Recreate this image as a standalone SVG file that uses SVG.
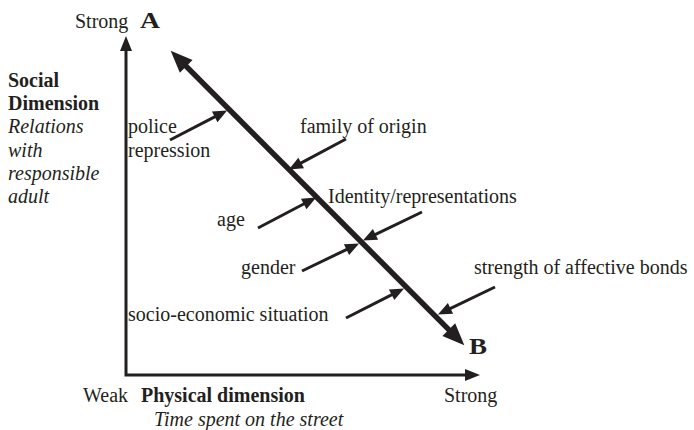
<svg xmlns="http://www.w3.org/2000/svg" width="694" height="430" viewBox="0 0 694 430">
<style>
text{font-family:"Liberation Serif","Times New Roman",serif;font-size:20px;fill:#231f20}
.b{font-weight:bold}
.i{font-style:italic}
.big{font-weight:bold;font-size:24px}
.ax{fill:none;stroke:#231f20;stroke-width:3}
.main{fill:none;stroke:#231f20;stroke-width:5.5}
.sm{fill:none;stroke:#231f20;stroke-width:3}
</style>
<defs>
<marker id="mBig" markerUnits="userSpaceOnUse" markerWidth="24" markerHeight="20" refX="1" refY="9" orient="auto-start-reverse" overflow="visible"><path d="M0,0 L22,9 L0,18 z" fill="#231f20"/></marker>
<marker id="mAx" markerUnits="userSpaceOnUse" markerWidth="16" markerHeight="14" refX="1" refY="6" orient="auto-start-reverse" overflow="visible"><path d="M0,0 L15,6 L0,12 z" fill="#231f20"/></marker>
<marker id="mSm" markerUnits="userSpaceOnUse" markerWidth="16" markerHeight="14" refX="1" refY="6" orient="auto" overflow="visible"><path d="M0,0 L14,6 L0,12 z" fill="#231f20"/></marker>
</defs>
<g id="connectors">
<path class="ax" d="M126,50 L126,375 L466,375" marker-start="url(#mAx)" marker-end="url(#mAx)"/>
<path class="main" d="M185.5,65.6 L449.5,330.4" marker-start="url(#mBig)" marker-end="url(#mBig)"/>
<path class="sm" d="M170,140 L215.6,116.4" marker-end="url(#mSm)"/>
<path class="sm" d="M346,139 L300.3,163.4" marker-end="url(#mSm)"/>
<path class="sm" d="M258,228 L304.6,203.5" marker-end="url(#mSm)"/>
<path class="sm" d="M422,212 L374.6,234.9" marker-end="url(#mSm)"/>
<path class="sm" d="M302,271 L347.4,249.1" marker-end="url(#mSm)"/>
<path class="sm" d="M346,318 L392.5,294.3" marker-end="url(#mSm)"/>
<path class="sm" d="M495,287 L449.6,308.9" marker-end="url(#mSm)"/>
</g>
<g id="axis-y-label">
<text x="75" y="28">Strong</text>
<text class="b" x="8" y="87">Social</text>
<text class="b" x="8" y="110">Dimension</text>
<text class="i" x="8" y="133">Relations</text>
<text class="i" x="8" y="157">with</text>
<text class="i" x="8" y="180">responsible</text>
<text class="i" x="8" y="203">adult</text>
</g>
<g id="axis-x-label">
<text x="83" y="402">Weak</text>
<text class="b" x="141" y="402">Physical dimension</text>
<text class="i" x="154" y="426">Time spent on the street</text>
<text x="444" y="402">Strong</text>
</g>
<g id="node-A"><text class="big" x="140" y="28" textLength="20" lengthAdjust="spacingAndGlyphs">A</text></g>
<g id="node-B"><text class="big" x="469" y="354" textLength="18" lengthAdjust="spacingAndGlyphs">B</text></g>
<g id="factor-police"><text x="128" y="133">police</text><text x="128" y="157">repression</text></g>
<g id="factor-family"><text x="300" y="133">family of origin</text></g>
<g id="factor-age"><text x="217" y="226">age</text></g>
<g id="factor-identity"><text x="328" y="203">Identity/representations</text></g>
<g id="factor-gender"><text x="241" y="274">gender</text></g>
<g id="factor-socio"><text x="128" y="321">socio-economic situation</text></g>
<g id="factor-strength"><text x="474" y="274">strength of affective bonds</text></g>
</svg>
